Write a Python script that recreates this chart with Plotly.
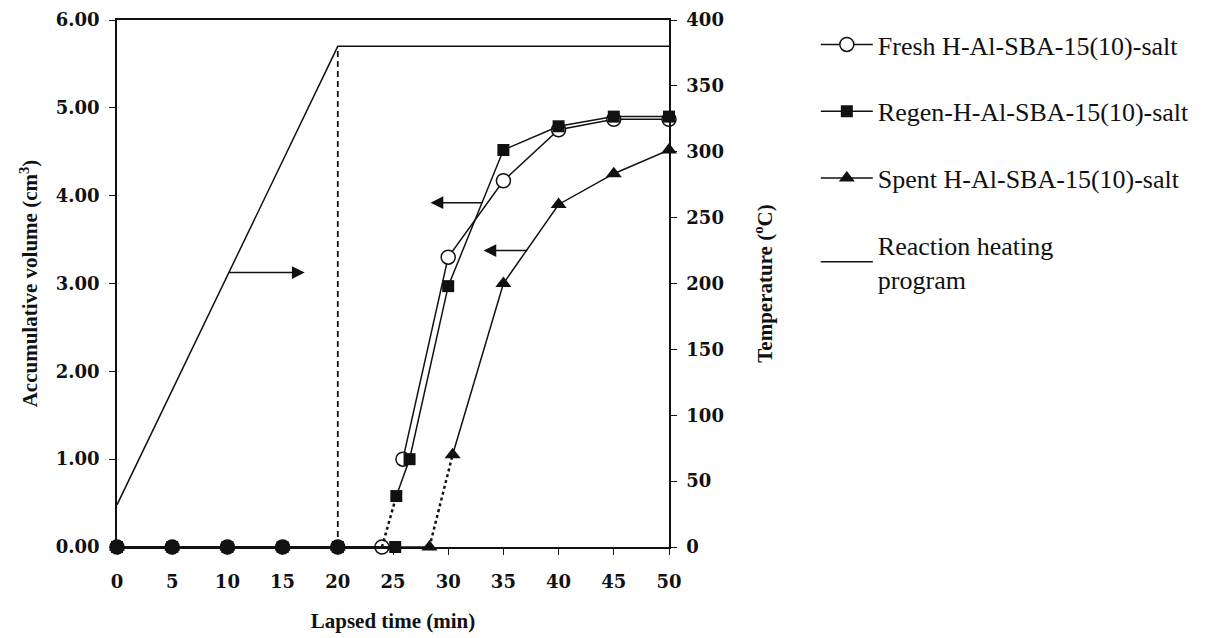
import plotly.graph_objects as go

# ---- data ----
base_x = [0, 5, 10, 15, 20]
fresh_base_x = base_x + [24]
fresh_base_y = [0, 0, 0, 0, 0, 0]
fresh_gap_x = [24, 25.3]
fresh_gap_y = [0, 0.58]
fresh_x = [25.9, 30, 35, 40, 45, 50]
fresh_y = [1.00, 3.30, 4.17, 4.75, 4.87, 4.87]

regen_base_x = base_x + [25.2]
regen_base_y = [0, 0, 0, 0, 0, 0]
regen_x = [25.3, 26.5, 30, 35, 40, 45, 50]
regen_y = [0.58, 1.00, 2.97, 4.52, 4.79, 4.90, 4.90]

spent_base_x = base_x + [28.3]
spent_base_y = [0, 0, 0, 0, 0, 0]
spent_gap_x = [28.3, 30.4]
spent_gap_y = [0, 1.05]
spent_x = [30.4, 35, 40, 45, 50]
spent_y = [1.05, 3.00, 3.90, 4.25, 4.52]

heat_x = [0, 20, 50]
heat_t = [32, 380, 380]
hold_x = [20, 20]
hold_t = [0, 380]

x_ticks = [0, 5, 10, 15, 20, 25, 30, 35, 40, 45, 50]
y_ticks = [0, 1, 2, 3, 4, 5, 6]
y_tick_labels = ["0.00", "1.00", "2.00", "3.00", "4.00", "5.00", "6.00"]
t_ticks = [0, 50, 100, 150, 200, 250, 300, 350, 400]

names = ["Fresh H-Al-SBA-15(10)-salt", "Regen-H-Al-SBA-15(10)-salt",
         "Spent H-Al-SBA-15(10)-salt", "Reaction heating<br>program"]

BLACK = "#111111"
SERIF = "Liberation Serif, Times New Roman, serif"
WIDE_SERIF = "DejaVu Serif, serif"

fig = go.Figure()

line = dict(color=BLACK, width=1.5)
dotline = dict(color=BLACK, width=2.5, dash="dot")

# heating program hold marker (right axis)
fig.add_trace(go.Scatter(x=hold_x, y=hold_t, yaxis="y2", mode="lines",
                         line=dict(color=BLACK, width=1.8, dash="6px,4px"),
                         showlegend=False, hoverinfo="skip"))

# base (zero) segments
fig.add_trace(go.Scatter(x=fresh_base_x, y=fresh_base_y, mode="lines+markers", line=line,
                         marker=dict(symbol="circle-open", size=14, color=BLACK, line=dict(width=1.5)),
                         showlegend=False, cliponaxis=False))
fig.add_trace(go.Scatter(x=regen_base_x, y=regen_base_y, mode="lines+markers", line=line,
                         marker=dict(symbol="square", size=12, color=BLACK),
                         showlegend=False, cliponaxis=False))
fig.add_trace(go.Scatter(x=spent_base_x, y=spent_base_y, mode="lines+markers", line=line,
                         marker=dict(symbol="triangle-up", size=14, color=BLACK),
                         showlegend=False, cliponaxis=False))
fig.add_trace(go.Scatter(x=base_x, y=[0] * len(base_x), mode="markers",
                         marker=dict(symbol="circle", size=14, color=BLACK),
                         showlegend=False, cliponaxis=False))

# dotted gaps
fig.add_trace(go.Scatter(x=fresh_gap_x, y=fresh_gap_y, mode="lines", line=dotline,
                         showlegend=False))
fig.add_trace(go.Scatter(x=spent_gap_x, y=spent_gap_y, mode="lines", line=dotline,
                         showlegend=False))

# rising parts (legend entries)
fig.add_trace(go.Scatter(x=fresh_x, y=fresh_y, mode="lines+markers", line=line, name=names[0],
                         legendgroup="a",
                         marker=dict(symbol="circle", size=14, color="white",
                                     line=dict(width=1.5, color=BLACK)),
                         cliponaxis=False))
fig.add_trace(go.Scatter(x=regen_x, y=regen_y, mode="lines+markers", line=line, name=names[1],
                         legendgroup="b",
                         marker=dict(symbol="square", size=12, color=BLACK),
                         cliponaxis=False))
fig.add_trace(go.Scatter(x=spent_x, y=spent_y, mode="lines+markers", line=line, name=names[2],
                         legendgroup="c",
                         marker=dict(symbol="triangle-up", size=14, color=BLACK),
                         cliponaxis=False))
fig.add_trace(go.Scatter(x=heat_x, y=heat_t, yaxis="y2", mode="lines",
                         line=dict(color=BLACK, width=1.5), name=names[3], legendgroup="d"))

# arrows
arrows = [
    (17.0, 3.125, 10.0, 3.125),
    (28.4, 3.92, 33.2, 3.92),
    (33.2, 3.375, 37.3, 3.375),
]
for hx, hy, tx, ty in arrows:
    fig.add_annotation(x=hx, y=hy, ax=tx, ay=ty, xref="x", yref="y", axref="x", ayref="y",
                       text="", showarrow=True, arrowhead=2, arrowsize=1.7, arrowwidth=1.5,
                       arrowcolor=BLACK)

tickfont = dict(family=WIDE_SERIF, size=18, color=BLACK, weight="bold")
titlefont = dict(family=SERIF, size=21, color=BLACK, weight="bold")

common = dict(showline=True, linecolor=BLACK, linewidth=1.5, ticks="outside", ticklen=6,
              tickcolor=BLACK, showgrid=False, zeroline=False, tickfont=tickfont,
              automargin=False)

fig.update_layout(
    width=1199, height=630,
    margin=dict(l=109, r=538, t=12, b=91),
    paper_bgcolor="white", plot_bgcolor="white",
    font=dict(family=SERIF, color=BLACK),
    xaxis=dict(range=[0, 50], tickvals=x_ticks, mirror=True, ticklabelstandoff=12,
               title=dict(text="Lapsed time (min)", font=titlefont, standoff=22), **common),
    yaxis=dict(range=[0, 6], tickvals=y_ticks, ticktext=y_tick_labels, ticklabelstandoff=6,
               title=dict(text="Accumulative volume (cm<sup>3</sup>)", font=titlefont, standoff=12),
               **common),
    yaxis2=dict(range=[0, 400], tickvals=t_ticks, overlaying="y", side="right",
                ticklabelstandoff=6,
                title=dict(text="Temperature (<sup>o</sup>C)", font=titlefont, standoff=34),
                **common),
    legend=dict(x=1.266, y=0.998, xanchor="left", yanchor="top",
                font=dict(family=SERIF, size=26, color=BLACK), itemwidth=52,
                tracegroupgap=30, bgcolor="rgba(0,0,0,0)"),
)

fig.write_html("out.html")
